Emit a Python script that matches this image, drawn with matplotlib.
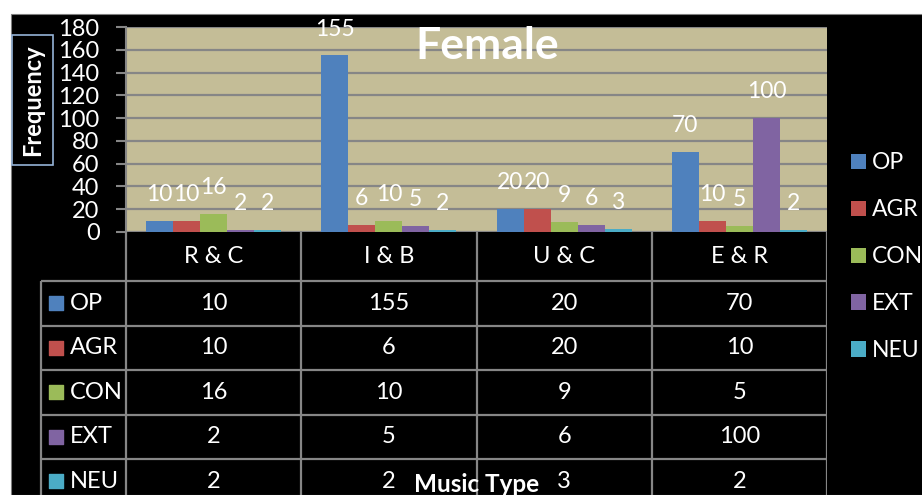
import numpy as np
import matplotlib.pyplot as plt
from matplotlib.patches import Rectangle

# --- data
categories = ['R & C', 'I & B', 'U & C', 'E & R']
series = ['OP', 'AGR', 'CON', 'EXT', 'NEU']
op = [10, 155, 20, 70]
agr = [10, 6, 20, 10]
con = [16, 10, 9, 5]
ext = [2, 5, 6, 100]
neu = [2, 2, 3, 2]
values = [op, agr, con, ext, neu]
colors = ['#4F81BD', '#C0504D', '#9BBB59', '#8064A2', '#4BACC6']

plt.rcParams['font.family'] = ['Lato', 'DejaVu Sans']

W, H = 922, 495
fig = plt.figure(figsize=(W / 100, H / 100), dpi=100, facecolor='white')
fig.patches.append(Rectangle((11 / W, 0), 1, 1 - 14 / H, transform=fig.transFigure,
                             facecolor='black', edgecolor='#7f7f7f', lw=0.8, zorder=-10))


def box(x0, y0, x1, y1):
    return [x0 / W, 1 - y1 / H, (x1 - x0) / W, (y1 - y0) / H]


grid_c = '#868686'

# --- bar chart
ax = fig.add_axes(box(126, 27, 827, 232))
ax.set_facecolor('#C4BD97')
x = np.arange(len(categories))
bw = 0.154
for i, (name, vals, c) in enumerate(zip(series, values, colors)):
    bars = ax.bar(x + (i - 2) * bw, vals, bw, color=c, label=name, zorder=3)
    for b, v in zip(bars, vals):
        ax.annotate(str(v), (b.get_x() + b.get_width() / 2, v), xytext=(0, 19),
                    textcoords='offset points', ha='center', va='center',
                    color='white', fontsize=16.5, annotation_clip=False)

ax.set_xlim(-0.5, 3.5)
ax.set_ylim(0, 180)
ax.set_yticks(range(0, 181, 20))
ax.yaxis.grid(True, color=grid_c, lw=1.6)
ax.set_axisbelow(True)
ax.tick_params(axis='y', colors=grid_c, labelcolor='white', labelsize=17,
               length=7, width=1.5, pad=12)
ax.tick_params(axis='x', bottom=False, labelbottom=False)
for s in ['top', 'right', 'bottom']:
    ax.spines[s].set_visible(False)
ax.spines['left'].set_color(grid_c)
ax.spines['left'].set_linewidth(1.5)
ax.text(0.515, 0.905, 'Female', transform=ax.transAxes, ha='center', va='center',
        color='white', fontsize=32, fontweight='bold')

fig.text(32.5 / W, 1 - 100 / H, 'Frequency', rotation=90, ha='center', va='center',
         color='white', fontsize=17, fontweight='bold',
         bbox=dict(boxstyle='square,pad=0.4', facecolor='black', edgecolor='#95B3D7', lw=1.2))

# --- data table under the chart
px_cat = 701 / 4          # pixels per category
row_h = 44.5
tx = fig.add_axes(box(39, 232, 827, 495))
left = -0.5 - 87 / px_cat
tx.set_xlim(left, 3.5)
tx.set_ylim((495 - 281) / row_h, -49 / row_h)
tx.axis('off')
tx.patch.set_alpha(0)

edges = np.arange(len(categories) + 1) - 0.5
tx.vlines(edges, -49 / row_h, len(series), color=grid_c, lw=1.6)
tx.vlines([left + 0.01], 0, len(series), color=grid_c, lw=1.6)
tx.hlines(range(len(series) + 1), left + 0.01, 3.5, color=grid_c, lw=1.6)

for j, cat in enumerate(categories):
    tx.text(j, -49 / row_h / 2, cat, ha='center', va='center', color='white', fontsize=17)
for i, (name, vals, c) in enumerate(zip(series, values, colors)):
    tx.scatter([left + 16.5 / px_cat], [i + 0.5], marker='s', s=115, color=c, clip_on=False)
    tx.text(left + 31 / px_cat, i + 0.5, name, ha='left', va='center', color='white', fontsize=17)
    for j, v in enumerate(vals):
        tx.text(j, i + 0.5, str(v), ha='center', va='center', color='white', fontsize=17)

fig.text(477 / W, 1 - 485 / H, 'Music Type', ha='center', va='center', color='white',
         fontsize=17.5, fontweight='bold', zorder=10)

# --- legend
handles, labels = ax.get_legend_handles_labels()
fig.legend(handles, labels, loc='upper left', bbox_to_anchor=(840 / W, 1 - 141 / H),
           frameon=False, labelcolor='white', fontsize=16.5, handlelength=0.65,
           handleheight=0.65, handletextpad=0.25, labelspacing=1.13, borderpad=0)

fig.savefig('out.png', dpi=100, facecolor=fig.get_facecolor())
